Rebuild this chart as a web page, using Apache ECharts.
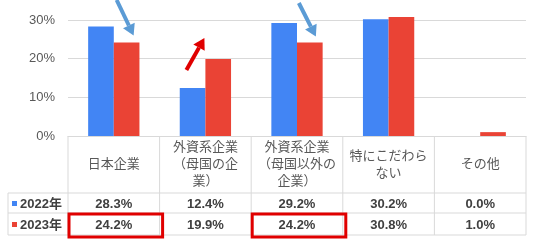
<!DOCTYPE html>
<html><head><meta charset="utf-8">
<script src="https://cdn.jsdelivr.net/npm/echarts@6/dist/echarts.min.js"></script>
<style>html,body{margin:0;padding:0;background:#fff}#c{width:534px;height:251px}</style>
</head><body><div id="c"></div>
<script>
const categories = ["日本企業", "外資系企業\n（母国の企\n業）", "外資系企業\n（母国以外の\n企業）", "特にこだわら\nない", "その他"];
const seriesNames = ["2022年", "2023年"];
const values2022 = [28.3, 12.4, 29.2, 30.2, 0.0];
const values2023 = [24.2, 19.9, 24.2, 30.8, 1.0];
const yTicks = [0, 10, 20, 30];
const highlighted = [0, 2];

const FONT = "'Liberation Sans', 'Noto Sans CJK JP', sans-serif";
const BLUE = '#4285f4', RED = '#ea4335';
const chart = echarts.init(document.getElementById('c'), null, {renderer: 'canvas'});
chart.setOption({
  animation: false,
  textStyle: {fontFamily: FONT},
  grid: {left: 68, right: 8, top: 20, bottom: 115},
  xAxis: {type: 'category', data: categories, axisLine: {lineStyle: {color: '#d9d9d9'}}, axisTick: {show: false}, axisLabel: {show: false}},
  yAxis: {type: 'value', min: yTicks[0], max: yTicks[yTicks.length-1], interval: 10,
    axisLabel: {formatter: '{value}%', color: '#595959', fontSize: 13, margin: 13, fontFamily: FONT},
    splitLine: {lineStyle: {color: '#d9d9d9'}}},
  series: [
    {name: seriesNames[0], type: 'bar', data: values2022, itemStyle: {color: BLUE}, barGap: '0%', barCategoryGap: '44%', clip: false},
    {name: seriesNames[1], type: 'bar', data: values2023, itemStyle: {color: RED}, clip: false}
  ]
});

function px(i, v) { return chart.convertToPixel({xAxisIndex: 0, yAxisIndex: 0}, [i, v]); }
const c0 = px(0, 0), c1 = px(1, 0);
const band = c1[0] - c0[0];
const y0 = c0[1];
const bounds = [];
for (let i = 0; i <= categories.length; i++) bounds.push(c0[0] - band/2 + i*band);
const leftX = 8, rightX = bounds[bounds.length-1];
const rowH = y0 + 57, row1 = rowH + 20, row2 = row1 + 22;
const g = [];
const LC = '#d9d9d9';
function line(x1,y1,x2,y2,color,w){ g.push({type:'line', shape:{x1,y1,x2,y2}, style:{stroke:color, lineWidth:w||1}, z:10}); }
bounds.forEach(x => line(x, y0, x, row2, LC));
line(leftX, rowH, leftX, row2, LC);
[rowH, row1, row2].forEach(y => line(leftX, y, rightX, y, LC));
categories.forEach((cat, i) => {
  g.push({type:'text', x:(bounds[i]+bounds[i+1])/2, y:(y0+rowH)/2, style:{text:cat, fill:'#595959', font:'13px '+FONT, textAlign:'center', textVerticalAlign:'middle', lineHeight:17}, z:11});
  g.push({type:'text', x:(bounds[i]+bounds[i+1])/2, y:(rowH+row1)/2+1, style:{text:values2022[i].toFixed(1)+'%', fill:'#404040', font:'bold 13px '+FONT, textAlign:'center', textVerticalAlign:'middle'}, z:11});
  g.push({type:'text', x:(bounds[i]+bounds[i+1])/2, y:(row1+row2)/2+1, style:{text:values2023[i].toFixed(1)+'%', fill:'#404040', font:'bold 13px '+FONT, textAlign:'center', textVerticalAlign:'middle'}, z:11});
});
[[rowH,row1,BLUE,seriesNames[0]],[row1,row2,RED,seriesNames[1]]].forEach(([a,b,col,name]) => {
  const cy = (a+b)/2;
  g.push({type:'rect', shape:{x:12, y:cy-2, width:5, height:5}, style:{fill:col}, z:11});
  g.push({type:'text', x:20, y:cy+1, style:{text:name, fill:'#404040', font:'bold 13px '+FONT, textAlign:'left', textVerticalAlign:'middle'}, z:11});
});
highlighted.forEach(i => {
  g.push({type:'rect', shape:{x:bounds[i]+1, y:row1+1, width:band+2, height:row2-row1+1}, style:{fill:'none', stroke:'#e00000', lineWidth:3}, z:12});
});
function arrow(x1,y1,x2,y2,color,w,hl,hw){
  const dx=x2-x1, dy=y2-y1, L=Math.hypot(dx,dy), ux=dx/L, uy=dy/L;
  const bx=x2-ux*hl, by=y2-uy*hl;
  g.push({type:'line', shape:{x1,y1,x2:bx,y2:by}, style:{stroke:color, lineWidth:w}, z:13});
  g.push({type:'polygon', shape:{points:[[x2,y2],[bx-uy*hw/2,by+ux*hw/2],[bx+uy*hw/2,by-ux*hw/2]]}, style:{fill:color}, z:13});
}
// annotation arrows placed relative to bar tops
const halfBar = band*0.28/2*1; 
function redTop(i){ const p = px(i, values2023[i]); return [p[0] + band*0.14, p[1]]; }
const rt0 = redTop(0), rt2 = redTop(2), bt1 = px(1, values2022[1]);
arrow(rt0[0]-10, 0, rt0[0]+7, rt0[1]-7, '#5b9bd5', 4, 11, 13);
arrow(rt2[0]-11, 3, rt2[0]+6, rt2[1]-6, '#5b9bd5', 4, 11, 13);
arrow(bt1[0]-19, bt1[1]-18, bt1[0]-1, bt1[1]-50, '#e00000', 4, 11, 13);
chart.setOption({graphic: g});
</script></body></html>
